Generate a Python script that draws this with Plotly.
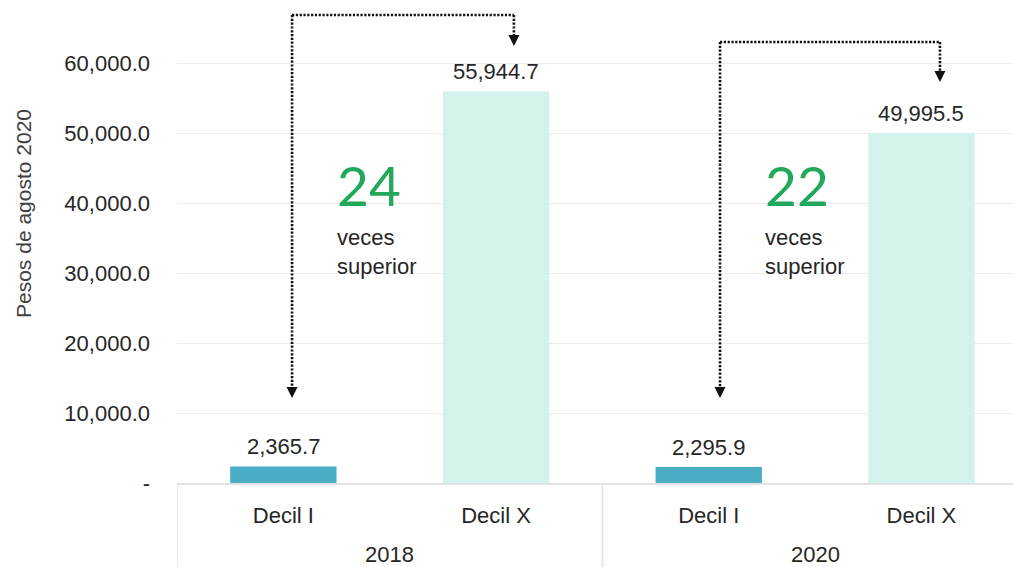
import plotly.graph_objects as go

# ---- data ----
years = ["2018", "2018", "2020", "2020"]
deciles = ["Decil I", "Decil X", "Decil I", "Decil X"]
values = [2365.7, 55944.7, 2295.9, 49995.5]
bar_colors = ["#4BACC6", "#D2F2EB", "#4BACC6", "#D2F2EB"]
ratio_labels = ["24", "22"]
ratio_text = "veces<br>superior"
y_tickvals = [0, 10000, 20000, 30000, 40000, 50000, 60000]
y_ticktext = ["-", "10,000.0", "20,000.0", "30,000.0", "40,000.0", "50,000.0", "60,000.0"]
y_title = "Pesos de agosto 2020"

FONT = "Liberation Sans, Arial, sans-serif"
TXT = "#262626"
FS = 22

xpos = list(range(len(deciles)))

fig = go.Figure()
fig.add_trace(go.Bar(
    x=xpos, y=values,
    marker=dict(color=bar_colors, line=dict(width=0)),
    width=0.5, hoverinfo="skip",
))

annotations = []
# value labels above bars
for xi, v in zip(xpos, values):
    annotations.append(dict(xref="x", yref="y", x=xi, y=v, text=f"{v:,.1f}",
                            showarrow=False, yanchor="bottom", yshift=5,
                            font=dict(family=FONT, size=FS, color=TXT)))

# year group labels and dividers
unique_years = list(dict.fromkeys(years))
PLOT_H = 483
shapes = []
bounds = []
for yr in unique_years:
    idx = [i for i, y in enumerate(years) if y == yr]
    annotations.append(dict(xref="x", yref="paper", x=sum(idx) / len(idx),
                            y=-(554 - 483) / PLOT_H, text=yr, showarrow=False,
                            yanchor="middle",
                            font=dict(family=FONT, size=FS, color=TXT)))
    bounds += [min(idx) - 0.5, max(idx) + 0.5]
for b in sorted(set(bounds)):
    shapes.append(dict(type="line", xref="x", yref="paper", x0=b, x1=b,
                       y0=0, y1=-84 / PLOT_H, line=dict(color="#E3E3E3", width=1.5)))

YMAX = 69000
# arrow geometry per year group (offsets in category units, heights in data units)
arrow_groups = [
    dict(x0=0.041, x1=1.084, top=66860, tip_left=12140, tip_right=62430),
    dict(x0=2.053, x1=3.087, top=63000, tip_left=12140, tip_right=57290),
]
for g in arrow_groups:
    dot = dict(color="#111111", width=2.6, dash="2.2px,1.6px")
    shapes.append(dict(type="line", xref="x", yref="y", x0=g["x0"], x1=g["x0"],
                       y0=g["top"], y1=g["tip_left"] + 1200, line=dot))
    shapes.append(dict(type="line", xref="x", yref="y", x0=g["x0"], x1=g["x1"],
                       y0=g["top"], y1=g["top"], line=dot))
    shapes.append(dict(type="line", xref="x", yref="y", x0=g["x1"], x1=g["x1"],
                       y0=g["top"], y1=g["tip_right"] + 1200, line=dot))
    for xx, tip in [(g["x0"], g["tip_left"]), (g["x1"], g["tip_right"])]:
        annotations.append(dict(xref="x", yref="y", x=xx, y=tip, text="",
                                showarrow=True, ax=0, ay=-9, arrowhead=2,
                                arrowsize=1.1, arrowwidth=2, arrowcolor="#111111",
                                standoff=0))

for i, r in enumerate(ratio_labels):
    base = 2 * i
    xl = base + 0.245 + 0.012 * i
    annotations.append(dict(xref="x", yref="y", x=xl, y=42570,
                            text=r, showarrow=False, xanchor="left", yanchor="middle",
                            font=dict(family="Lato, Open Sans, sans-serif", size=55,
                                      color="#22A85A")))
    annotations.append(dict(xref="x", yref="y", x=xl, y=32930,
                            text=ratio_text, showarrow=False, xanchor="left",
                            yanchor="middle", align="left",
                            font=dict(family=FONT, size=FS, color=TXT)))

annotations.append(dict(xref="paper", yref="paper", x=(23 - 177) / 836, y=1 - 214 / PLOT_H,
                        text=y_title, showarrow=False, textangle=-90,
                        xanchor="center", yanchor="middle",
                        font=dict(family=FONT, size=21, color="#404040")))

xr = [-0.5, -0.5 + (1013 - 177) / 212.7]
fig.update_layout(
    width=1013, height=567,
    margin=dict(l=177, r=0, t=0, b=84),
    paper_bgcolor="white", plot_bgcolor="white",
    showlegend=False,
    xaxis=dict(range=xr, showgrid=False, showline=True, linecolor="#E3E3E3",
               linewidth=1.5, ticks="", tickvals=xpos, ticktext=deciles,
               ticklabelstandoff=12, automargin=False, zeroline=False,
               tickfont=dict(family=FONT, size=FS, color=TXT), fixedrange=True),
    yaxis=dict(range=[0, YMAX], tickvals=y_tickvals, ticktext=y_ticktext,
               showgrid=True, gridcolor="#EDEDED", gridwidth=1,
               zeroline=False, showline=False, ticks="", automargin=False,
               ticklabelstandoff=26,
               tickfont=dict(family=FONT, size=FS, color=TXT), fixedrange=True),
    shapes=shapes, annotations=annotations,
)

fig.write_html("out.html", config={"displayModeBar": False},
               post_script="document.body.style.margin='0';document.body.style.overflow='hidden';")
